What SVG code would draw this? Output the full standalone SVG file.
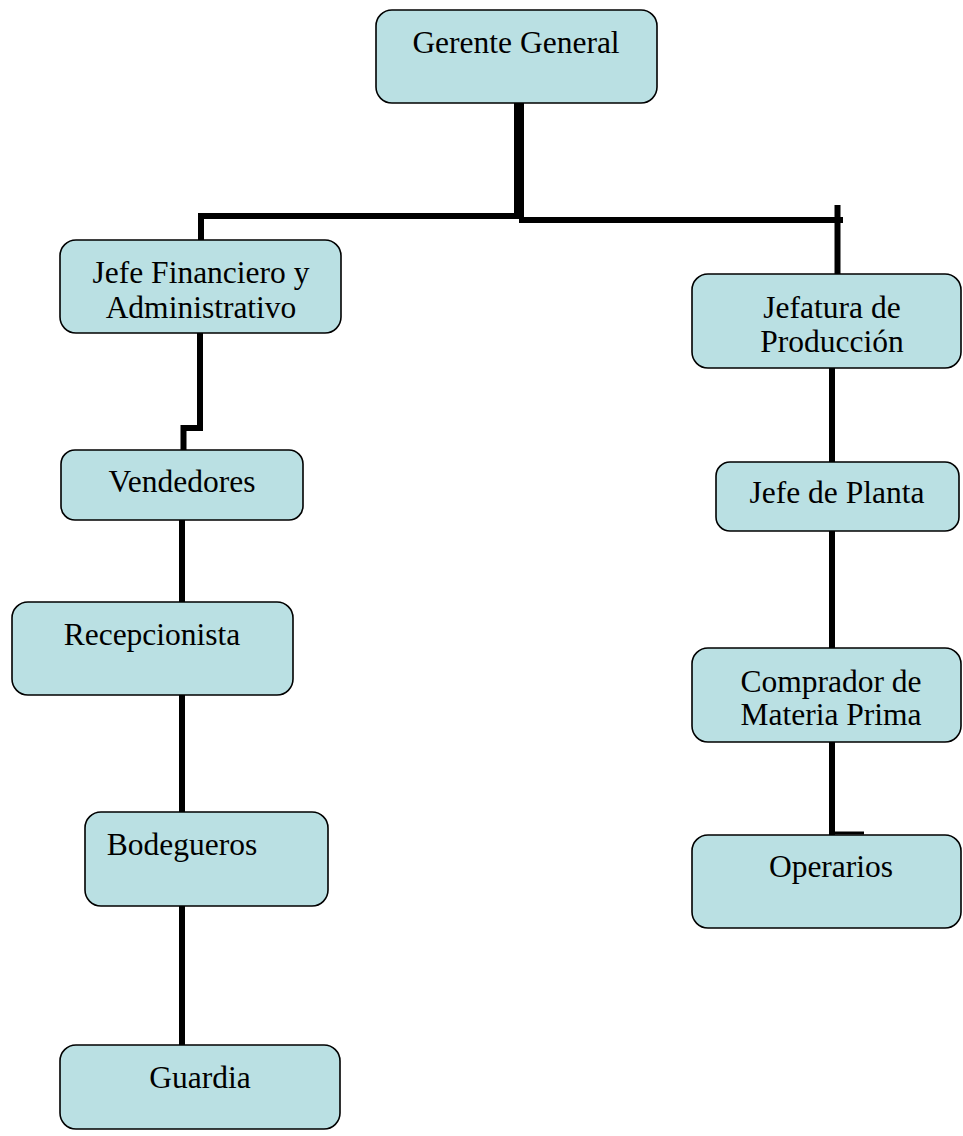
<svg xmlns="http://www.w3.org/2000/svg" width="963" height="1136" viewBox="0 0 963 1136">
<style>
.box{fill:#BAE0E3;stroke:#000;stroke-width:1.6}
.t{font-family:"Liberation Serif","Times New Roman",serif;font-size:31.5px;fill:#000;text-anchor:middle}
.c{fill:none;stroke:#000;stroke-linecap:butt;stroke-linejoin:miter}
</style>
<rect width="963" height="1136" fill="#fff"/>
<g id="connectors">
<path class="c" d="M519 103 V219" stroke-width="10"/>
<path class="c" d="M517 216 H201 V240" stroke-width="6"/>
<path class="c" d="M519 220 H843" stroke-width="6"/>
<path class="c" d="M837.5 205 V274" stroke-width="6"/>
<path class="c" d="M200 333 V428 H183.5 V450" stroke-width="6"/>
<path class="c" d="M182 520 V602" stroke-width="6"/>
<path class="c" d="M182 695 V812" stroke-width="6"/>
<path class="c" d="M182 906 V1047" stroke-width="6"/>
<path class="c" d="M832 368 V462" stroke-width="6"/>
<path class="c" d="M832 531 V648" stroke-width="6"/>
<path class="c" d="M832 742 V835" stroke-width="6"/>
<path class="c" d="M832 833 H864" stroke-width="3"/>
</g>
<g id="gerente"><rect class="box" x="376" y="10" width="281" height="93" rx="16"/><text class="t" x="516" y="53">Gerente General</text></g>
<g id="jefe-financiero"><rect class="box" x="60" y="240" width="281" height="93" rx="16"/><text class="t" x="201" y="283">Jefe Financiero y</text><text class="t" x="201" y="318">Administrativo</text></g>
<g id="jefatura-produccion"><rect class="box" x="692" y="274" width="269" height="94" rx="16"/><text class="t" x="832" y="318">Jefatura de</text><text class="t" x="832" y="352">Producción</text></g>
<g id="vendedores"><rect class="box" x="61" y="450" width="242" height="70" rx="14"/><text class="t" x="182" y="492">Vendedores</text></g>
<g id="jefe-planta"><rect class="box" x="716" y="462" width="243" height="69" rx="14"/><text class="t" x="837" y="503">Jefe de Planta</text></g>
<g id="recepcionista"><rect class="box" x="12" y="602" width="281" height="93" rx="16"/><text class="t" x="152" y="645">Recepcionista</text></g>
<g id="comprador"><rect class="box" x="692" y="648" width="269" height="94" rx="16"/><text class="t" x="831" y="692">Comprador de</text><text class="t" x="831" y="725">Materia Prima</text></g>
<g id="bodegueros"><rect class="box" x="85" y="812" width="243" height="94" rx="16"/><text class="t" x="182" y="855">Bodegueros</text></g>
<g id="operarios"><rect class="box" x="692" y="835" width="269" height="93" rx="16"/><text class="t" x="831" y="877">Operarios</text></g>
<g id="guardia"><rect class="box" x="60" y="1045" width="280" height="84" rx="16"/><text class="t" x="200" y="1088">Guardia</text></g>
</svg>
